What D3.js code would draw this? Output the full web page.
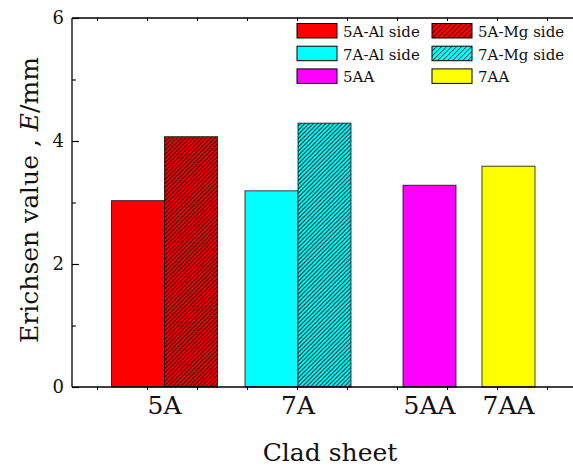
<!DOCTYPE html>
<html>
<head>
<meta charset="utf-8">
<script src="https://cdn.jsdelivr.net/npm/d3@7"></script>
<style>
  html, body { margin: 0; padding: 0; background: #fff; }
  svg { display: block; font-family: "DejaVu Serif", serif; }
</style>
</head>
<body>
<script>
// ---- data ----
const categories = ["5A", "7A", "5AA", "7AA"];
const alSide = [3.03, 3.19];          // 5A, 7A (Al side)
const mgSide = [4.07, 4.29];          // 5A, 7A (Mg side)
const aaValues = [3.28, 3.59];        // 5AA, 7AA
const legendLabels = ["5A-Al side", "5A-Mg side", "7A-Al side", "7A-Mg side", "5AA", "7AA"];
const yTicks = [0, 2, 4, 6];
const yMinorTicks = [1, 3, 5];

// ---- layout ----
const W = 573, H = 466;
const svg = d3.select("body").append("svg").attr("width", W).attr("height", H);

const x = d3.scaleLinear().domain([-0.5, 9.5]).range([72, 572]);
const y = d3.scaleLinear().domain([0, 6]).range([387, 18]);
const groupCenter = { "5A": 1.35, "7A": 4.02, "5AA": 6.65, "7AA": 8.23 };
const barW = 1.06;

const colors = { "5A": "#ff0000", "7A": "#00ffff", "5AA": "#ff00ff", "7AA": "#ffff00" };

// hatch patterns
const defs = svg.append("defs");
function hatch(id, color, s) {
  const p = defs.append("pattern").attr("id", id).attr("patternUnits", "userSpaceOnUse")
    .attr("width", s).attr("height", s);
  p.append("rect").attr("width", s).attr("height", s).attr("fill", color);
  p.append("path").attr("d", `M-1,1 l2,-2 M0,${s} l${s},${-s} M${s - 1},${s + 1} l2,-2`)
    .attr("stroke", "#000").attr("stroke-width", 0.9);
}
hatch("hRed", colors["5A"], 4.2);
hatch("hCyan", colors["7A"], 4.2);
hatch("hRedL", colors["5A"], 5);
hatch("hCyanL", colors["7A"], 5);

// bar data built from arrays
const bars = [];
["5A", "7A"].forEach((c, i) => {
  bars.push({ x0: groupCenter[c] - barW, x1: groupCenter[c], v: alSide[i], fill: colors[c] });
  bars.push({ x0: groupCenter[c], x1: groupCenter[c] + barW, v: mgSide[i], fill: c === "5A" ? "url(#hRed)" : "url(#hCyan)" });
});
["5AA", "7AA"].forEach((c, i) => {
  bars.push({ x0: groupCenter[c] - barW / 2, x1: groupCenter[c] + barW / 2, v: aaValues[i], fill: colors[c] });
});

svg.append("g").selectAll("rect").data(bars).join("rect")
  .attr("x", d => x(d.x0))
  .attr("width", d => x(d.x1) - x(d.x0))
  .attr("y", d => y(d.v))
  .attr("height", d => y(0) - y(d.v))
  .attr("fill", d => d.fill)
  .attr("stroke", "#000").attr("stroke-opacity", 0.75).attr("stroke-width", 1);

// axes frame
const ax = svg.append("g").attr("stroke", "#000").attr("fill", "none");
ax.append("line").attr("x1", 72).attr("x2", 72).attr("y1", y(6)).attr("y2", y(0)).attr("stroke-width", 1.3);
ax.append("line").attr("x1", 72).attr("x2", W).attr("y1", y(6)).attr("y2", y(6)).attr("stroke-width", 1.3);
ax.append("line").attr("x1", 72).attr("x2", W).attr("y1", y(0)).attr("y2", y(0)).attr("stroke-width", 1.3);

// y ticks (inward)
const yAxis = d3.axisRight(y).tickValues(yTicks).tickSize(7).tickFormat("");
svg.append("g").attr("transform", "translate(72,0)").call(yAxis).call(g => g.select(".domain").remove())
  .selectAll("line").attr("stroke-width", 1.2);
const yMinor = d3.axisRight(y).tickValues(yMinorTicks).tickSize(4).tickFormat("");
svg.append("g").attr("transform", "translate(72,0)").call(yMinor).call(g => g.select(".domain").remove())
  .selectAll("line").attr("stroke-width", 1.1);

// y tick labels
svg.append("g").selectAll("text").data(yTicks).join("text")
  .attr("x", 64).attr("y", d => y(d) + 6)
  .attr("text-anchor", "end").attr("font-size", 18).attr("fill", "#111")
  .text(d => d);

// x ticks (top inward, bottom outward)
const xt = d3.range(0, 10);
const xTop = d3.axisBottom(x).tickValues(xt).tickSize(3).tickFormat("");
svg.append("g").attr("transform", `translate(0,${y(6)})`).call(xTop).call(g => g.select(".domain").remove());
const xBot = d3.axisBottom(x).tickValues(xt).tickSize(3).tickFormat("");
svg.append("g").attr("transform", `translate(0,${y(0)})`).call(xBot).call(g => g.select(".domain").remove());

// x category labels
svg.append("g").selectAll("text").data(categories).join("text")
  .attr("x", d => x(groupCenter[d])).attr("y", 414)
  .attr("text-anchor", "middle").attr("font-size", 25).attr("fill", "#111")
  .text(d => d);

// axis titles
svg.append("text").attr("x", 330).attr("y", 461).attr("text-anchor", "middle")
  .attr("font-size", 25).attr("fill", "#111").text("Clad sheet");
const yl = svg.append("text").attr("transform", "translate(38,200) rotate(-90)")
  .attr("text-anchor", "middle").attr("font-size", 25).attr("fill", "#111");
yl.append("tspan").text("Erichsen value , ");
yl.append("tspan").attr("font-style", "italic").text("E");
yl.append("tspan").text("/mm");

// legend
const legendFills = [colors["5A"], "url(#hRedL)", colors["7A"], "url(#hCyanL)", colors["5AA"], colors["7AA"]];
const leg = svg.append("g").selectAll("g").data(legendLabels).join("g")
  .attr("transform", (d, i) => `translate(${i % 2 === 0 ? 297 : 432},${23.5 + Math.floor(i / 2) * 22.7})`);
leg.append("rect").attr("width", 40).attr("height", 14.5)
  .attr("fill", (d, i) => legendFills[i]).attr("stroke", "#000").attr("stroke-width", 1);
leg.append("text").attr("x", 46).attr("y", 13.5).attr("font-size", 15).attr("fill", "#111").text(d => d);
</script>
</body>
</html>
